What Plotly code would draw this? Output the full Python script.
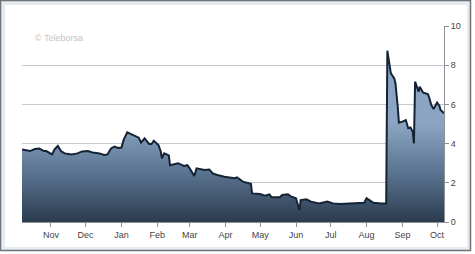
import plotly.graph_objects as go

dates = [
    "2012-10-07", "2012-10-10", "2012-10-14", "2012-10-18", "2012-10-22", "2012-10-26",
    "2012-10-28", "2012-11-02", "2012-11-04", "2012-11-07", "2012-11-10", "2012-11-13",
    "2012-11-19", "2012-11-24", "2012-11-28", "2012-12-03", "2012-12-07", "2012-12-13",
    "2012-12-17", "2012-12-20", "2012-12-23", "2012-12-26", "2012-12-29", "2013-01-01",
    "2013-01-03", "2013-01-06", "2013-01-07", "2013-01-12", "2013-01-16", "2013-01-18",
    "2013-01-21", "2013-01-25", "2013-01-27", "2013-01-29", "2013-02-02", "2013-02-04",
    "2013-02-05", "2013-02-07", "2013-02-11", "2013-02-12", "2013-02-19", "2013-02-24",
    "2013-02-27", "2013-03-01", "2013-03-05", "2013-03-07", "2013-03-14", "2013-03-18",
    "2013-03-21", "2013-03-25", "2013-03-31", "2013-04-09", "2013-04-11", "2013-04-16",
    "2013-04-21", "2013-04-23", "2013-04-24", "2013-05-01", "2013-05-05", "2013-05-09",
    "2013-05-11", "2013-05-18", "2013-05-20", "2013-05-25", "2013-05-28", "2013-06-01",
    "2013-06-02", "2013-06-04", "2013-06-05", "2013-06-10", "2013-06-14", "2013-06-18",
    "2013-06-21", "2013-06-28", "2013-07-03", "2013-07-09", "2013-07-17", "2013-07-26",
    "2013-07-30", "2013-08-01", "2013-08-05", "2013-08-07", "2013-08-14", "2013-08-18",
    "2013-08-19", "2013-08-20", "2013-08-22", "2013-08-25", "2013-08-26", "2013-08-28",
    "2013-08-29", "2013-09-01", "2013-09-04", "2013-09-06", "2013-09-08", "2013-09-10",
    "2013-09-11", "2013-09-12", "2013-09-13", "2013-09-15", "2013-09-16", "2013-09-17",
    "2013-09-19", "2013-09-23", "2013-09-24", "2013-09-26", "2013-09-28", "2013-09-29",
    "2013-10-01", "2013-10-03", "2013-10-04", "2013-10-07",
]
prices = [
    3.70, 3.65, 3.62, 3.72, 3.75, 3.62,
    3.62, 3.45, 3.70, 3.88, 3.60, 3.50,
    3.45, 3.50, 3.60, 3.62, 3.55, 3.50,
    3.42, 3.45, 3.75, 3.85, 3.78, 3.80,
    4.20, 4.58, 4.55, 4.40, 4.30, 4.05,
    4.27, 3.98, 3.98, 4.15, 3.93, 3.60,
    3.25, 3.50, 3.40, 2.90, 3.00, 2.86,
    2.90, 2.74, 2.35, 2.74, 2.65, 2.68,
    2.48, 2.40, 2.31, 2.23, 2.28, 2.06,
    1.97, 1.95, 1.46, 1.43, 1.34, 1.41,
    1.26, 1.26, 1.38, 1.41, 1.29, 1.21,
    1.00, 0.61, 1.12, 1.16, 1.04, 0.98,
    0.95, 1.04, 0.95, 0.92, 0.95, 0.95,
    0.98, 1.21, 1.04, 0.98, 0.95, 0.95,
    8.74, 8.27, 7.59, 7.33, 7.08, 5.88,
    5.07, 5.12, 5.20, 4.78, 4.82, 4.60,
    4.01, 7.16, 7.02, 6.65, 6.90, 6.82,
    6.60, 6.53, 6.39, 5.97, 5.77, 5.88,
    6.09, 5.93, 5.71, 5.55,
]
y_ticks = [0, 2, 4, 6, 8, 10]
x_range = ["2012-10-07", "2013-10-07"]
watermark = "© Teleborsa"

W, H = 475, 254
L, R, T, B = 22, 31, 26, 32
pw, ph = W - L - R, H - T - B


def px_x(p):
    return (p - L) / pw


def px_y(p):
    return (H - B - p) / ph


fig = go.Figure()
fig.add_trace(go.Scatter(
    x=dates, y=prices, mode="lines",
    line=dict(color="#142435", width=2),
    fill="tozeroy",
    fillgradient=dict(type="vertical",
                      colorscale=[[0, "#2b3b4e"], [0.5, "#5a7390"], [1, "#8aa4c2"]],
                      start=0, stop=5),
    hoverinfo="skip",
))

shapes = [
    dict(type="rect", xref="paper", yref="paper", layer="below",
         x0=px_x(0.5), x1=px_x(470.5), y0=px_y(250.5), y1=px_y(0.5),
         line=dict(color="#6d7379", width=1.5), fillcolor="#e7eaee"),
    dict(type="rect", xref="paper", yref="paper", layer="below",
         x0=px_x(5), x1=px_x(467), y0=px_y(247), y1=px_y(5),
         line=dict(width=0), fillcolor="#ffffff"),
]

fig.update_layout(
    width=W, height=H,
    margin=dict(l=L, r=R, t=T, b=B),
    paper_bgcolor="#ffffff", plot_bgcolor="rgba(0,0,0,0)",
    showlegend=False,
    shapes=shapes,
    font=dict(family="Liberation Sans, Arial, sans-serif", size=9, color="#444444"),
    xaxis=dict(type="date", range=x_range, dtick="M1", tick0="2012-11-01",
               tickformat="%b", ticks="outside", ticklen=4, tickcolor="#8a9096",
               showline=True, linecolor="#8a9096", linewidth=1,
               showgrid=False, zeroline=False, fixedrange=True,
               tickfont=dict(size=9, color="#444444")),
    yaxis=dict(side="right", range=[0, 10], tickvals=y_ticks,
               ticks="outside", ticklen=4, tickcolor="#8a9096",
               showline=True, linecolor="#8a9096", linewidth=1,
               showgrid=True, gridcolor="#c3c9cf", gridwidth=1,
               zeroline=False, fixedrange=True,
               tickfont=dict(size=9, color="#444444")),
    annotations=[dict(text=watermark, xref="paper", yref="paper",
                      x=px_x(33), y=px_y(38), xanchor="left", yanchor="middle",
                      showarrow=False,
                      font=dict(size=9, color="#c4c4c4"))],
)

fig.write_html("out.html")
